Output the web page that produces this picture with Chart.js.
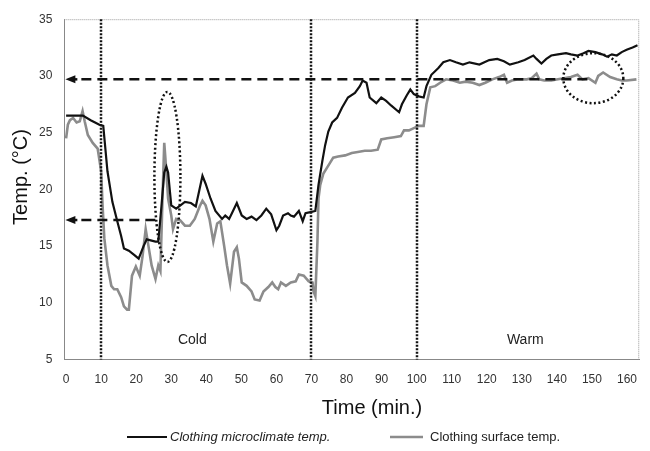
<!DOCTYPE html>
<html>
<head>
<meta charset="utf-8">
<script src="https://cdn.jsdelivr.net/npm/chart.js@4.4.1/dist/chart.umd.min.js"></script>
<style>
  html, body { margin: 0; padding: 0; background: #fff; }
  #wrap { width: 650px; height: 451px; }
</style>
</head>
<body>
<div id="wrap"><canvas id="myChart"></canvas></div>
<script>
// Clothing microclimate temp. (time in min, temp in degC)
const microTime = [0, 2, 4.8, 7, 9.5, 10.6, 11.8, 13.2, 14.6, 15.7, 16.5, 17.9, 19.5, 20.7, 22.1, 23, 25.5, 26.3, 27.2, 28, 28.6, 29.1, 30, 31.4, 33.9, 35.6, 37, 38.9, 39.8, 41.2, 42.6, 44.5, 45.4, 46.5, 47.3, 48.7, 50.1, 51.5, 52.9, 54.3, 55.7, 57.1, 58.5, 60, 60.8, 61.9, 63.3, 64.1, 65, 66.4, 67.5, 68.3, 69.7, 71.1, 72, 73.1, 73.9, 74.8, 75.9, 77.3, 78.7, 80.4, 82.4, 83.8, 84.6, 85.7, 86.6, 88.5, 89.9, 91.3, 92.7, 95, 95.8, 97.2, 98.2, 99.2, 100.6, 102, 102.8, 104.2, 106.2, 107.6, 109.5, 111.2, 113.2, 115.1, 117.9, 120.7, 123, 124.9, 126.6, 129, 130.8, 133.3, 134.2, 135.6, 137, 138.4, 140.3, 142.6, 144, 145.9, 147.6, 149, 151, 152.9, 154.3, 155.7, 157.1, 158.5, 159.9, 161.6, 163];
const microTemp = [26.5, 26.5, 26.5, 26.1, 25.7, 25.6, 21.6, 18.9, 17.2, 15.9, 14.8, 14.6, 14.2, 13.9, 15.0, 15.6, 15.4, 15.4, 18.5, 21.5, 22.0, 21.5, 18.6, 18.3, 18.9, 18.8, 18.5, 21.2, 20.5, 19.2, 18.1, 17.4, 17.7, 17.4, 17.9, 18.8, 17.7, 17.4, 17.6, 17.3, 17.7, 18.3, 17.8, 16.4, 16.8, 17.7, 17.9, 17.7, 17.6, 18.1, 17.2, 17.9, 18.0, 18.1, 20.4, 22.5, 23.9, 25.1, 25.9, 26.3, 27.2, 28.1, 28.5, 29.1, 29.6, 29.4, 28.1, 27.6, 28.1, 27.8, 27.4, 26.8, 27.5, 28.3, 28.8, 28.4, 28.2, 28.1, 29.1, 30.1, 30.7, 31.2, 31.4, 31.2, 31.0, 31.2, 31.0, 31.4, 31.5, 31.3, 31.0, 31.2, 31.4, 31.8, 31.5, 31.1, 31.5, 31.8, 31.9, 32.0, 31.9, 31.8, 32.0, 32.2, 32.1, 31.9, 31.7, 31.9, 31.8, 32.1, 32.3, 32.5, 32.7];

// Clothing surface temp.
const surfTime = [0, 0.5, 1.1, 2, 3, 3.9, 4.7, 5.3, 6.2, 7.6, 9, 10, 10.4, 10.9, 11.8, 12.9, 13.7, 14.6, 15.7, 16.5, 17.4, 17.9, 18.8, 19.9, 21, 21.8, 22.7, 23.5, 24.4, 25.5, 26.3, 26.9, 27.5, 28, 28.6, 29.1, 30, 30.5, 31.4, 32.5, 33.9, 35.3, 36.7, 38.1, 38.9, 39.8, 40.9, 42, 43.1, 44, 45.1, 45.9, 46.8, 47.9, 48.7, 49.3, 50.1, 51.5, 52.9, 53.8, 55.2, 56.3, 57.7, 58.8, 59.7, 60.5, 61.3, 62.7, 64.1, 65.5, 66.4, 67.8, 69.2, 70.3, 70.6, 71.1, 71.7, 72, 72.5, 73.4, 74.8, 76.2, 77.6, 79.6, 81.5, 83.2, 85.2, 87, 88.9, 89.9, 91.6, 93.6, 95.5, 96.4, 97.8, 99.2, 100.6, 102, 102.8, 103.9, 105.3, 106.7, 108.4, 110.4, 112.3, 114, 116, 117.9, 119.6, 121.6, 123.5, 124.9, 125.8, 127.2, 129, 131.4, 132.8, 134.2, 135, 136.4, 138.4, 140.3, 142, 144, 145.9, 147.3, 149, 151, 151.8, 153.2, 155.2, 157.1, 158.5, 159.9, 162.7];
const surfTemp = [24.5, 25.7, 26.1, 26.3, 25.9, 26.0, 26.9, 26.0, 24.8, 24.1, 23.6, 21.6, 18.6, 15.7, 13.3, 11.5, 11.2, 11.2, 10.5, 9.7, 9.4, 9.4, 12.4, 13.2, 12.4, 14.1, 16.5, 15.0, 13.3, 12.1, 13.3, 12.8, 19.2, 24.1, 21.6, 19.2, 17.7, 16.5, 17.4, 17.3, 16.8, 16.8, 17.4, 18.5, 19.0, 18.6, 17.4, 15.4, 17.0, 17.2, 15.0, 13.3, 11.7, 14.5, 14.9, 13.9, 11.8, 11.5, 11.0, 10.3, 10.2, 11.0, 11.4, 11.8, 11.4, 11.2, 11.8, 11.5, 11.8, 11.9, 12.5, 12.4, 11.9, 11.8, 11.0, 10.6, 15.4, 19.2, 20.4, 21.4, 22.1, 22.8, 22.9, 23.0, 23.2, 23.3, 23.4, 23.4, 23.5, 24.4, 24.5, 24.6, 24.7, 25.2, 25.2, 25.4, 25.6, 25.6, 27.5, 29.0, 29.1, 29.4, 29.7, 29.6, 29.4, 29.5, 29.4, 29.2, 29.4, 29.7, 29.9, 30.1, 29.4, 29.6, 29.7, 29.7, 29.8, 30.2, 29.7, 29.6, 29.6, 29.7, 29.8, 29.9, 30.1, 29.7, 29.8, 29.4, 30.0, 30.3, 29.9, 29.7, 29.6, 29.6, 29.7];

const xTicks = [0, 10, 20, 30, 40, 50, 60, 70, 80, 90, 100, 110, 120, 130, 140, 150, 160];
const phaseLines = [10, 70, 100];
const phaseLabels = [{ text: "Cold", x: 36 }, { text: "Warm", x: 131 }];
// dashed reference arrows: [temp, end time]
const refArrows = [[29.7, 150], [17.3, 27]];
const xTitle = "Time (min.)";
const yTitle = "Temp. (°C)";

const FONT = "'Liberation Sans', Arial, sans-serif";
const toPoints = (xs, ys) => xs.map((x, i) => ({ x: x, y: ys[i] }));

const annotations = {
  id: "annotations",
  afterDatasetsDraw(chart) {
    const { ctx, chartArea, scales: { x, y } } = chart;
    ctx.save();

    // phase boundaries
    ctx.strokeStyle = "#111";
    ctx.lineWidth = 2.5;
    ctx.setLineDash([2, 1.5]);
    phaseLines.forEach(function (t) {
      const px = Math.round(x.getPixelForValue(t));
      ctx.beginPath();
      ctx.moveTo(px, chartArea.top);
      ctx.lineTo(px, chartArea.bottom);
      ctx.stroke();
    });

    // ellipse round the peak and circle at the end
    ctx.lineWidth = 2.5;
    ctx.setLineDash([2, 2.5]);
    ctx.beginPath();
    ctx.ellipse(x.getPixelForValue(28.9), y.getPixelForValue(21.1), 13, 85, 0, 0, Math.PI * 2);
    ctx.stroke();
    ctx.beginPath();
    ctx.ellipse(x.getPixelForValue(150.4), y.getPixelForValue(29.8), 30, 25, 0, 0, Math.PI * 2);
    ctx.stroke();

    // dashed arrows
    ctx.lineWidth = 2.5;
    refArrows.forEach(function (a) {
      const py = y.getPixelForValue(a[0]);
      const x0 = chartArea.left + 1;
      ctx.setLineDash([10, 6]);
      ctx.beginPath();
      ctx.moveTo(x0 + 16, py);
      ctx.lineTo(x.getPixelForValue(a[1]), py);
      ctx.stroke();
      ctx.setLineDash([]);
      ctx.beginPath();
      ctx.moveTo(x0, py);
      ctx.lineTo(x0 + 10, py - 4);
      ctx.lineTo(x0 + 10, py + 4);
      ctx.closePath();
      ctx.fillStyle = "#111";
      ctx.fill();
      ctx.beginPath();
      ctx.moveTo(x0 + 8, py);
      ctx.lineTo(x0 + 12, py);
      ctx.stroke();
    });

    ctx.fillStyle = "#222";
    ctx.font = "14px " + FONT;
    ctx.textAlign = "center";
    ctx.textBaseline = "middle";
    phaseLabels.forEach(function (l) {
      ctx.fillText(l.text, x.getPixelForValue(l.x), chartArea.bottom - 19);
    });
    ctx.restore();
  }
};

// light dotted frame on top and right
const frame = {
  id: "frame",
  beforeDatasetsDraw(chart) {
    const { ctx, chartArea } = chart;
    ctx.save();
    ctx.strokeStyle = "#999";
    ctx.lineWidth = 1;
    ctx.setLineDash([1, 1]);
    ctx.beginPath();
    ctx.moveTo(chartArea.left, chartArea.top + 0.5);
    ctx.lineTo(chartArea.right - 0.5, chartArea.top + 0.5);
    ctx.lineTo(chartArea.right - 0.5, chartArea.bottom);
    ctx.stroke();
    ctx.restore();
  }
};

// axis titles (placed a bit off-centre like the original) and legend row
const outerText = {
  id: "outerText",
  afterDraw(chart) {
    const ctx = chart.ctx;
    ctx.save();
    ctx.fillStyle = "#111";
    ctx.font = "20px " + FONT;
    ctx.textAlign = "center";
    ctx.textBaseline = "middle";
    ctx.fillText(xTitle, 372, 408);
    ctx.translate(21, 177);
    ctx.rotate(-Math.PI / 2);
    ctx.fillText(yTitle, 0, 0);
    ctx.restore();

    const ly = 437;
    const items = [
      { x0: 127, x1: 167, tx: 170, style: "italic ", ds: chart.data.datasets[0] },
      { x0: 390, x1: 423, tx: 430, style: "", ds: chart.data.datasets[1] },
    ];
    ctx.save();
    ctx.textBaseline = "middle";
    ctx.textAlign = "left";
    items.forEach(function (it) {
      ctx.strokeStyle = it.ds.borderColor;
      ctx.lineWidth = it.ds.borderWidth;
      ctx.beginPath();
      ctx.moveTo(it.x0, ly);
      ctx.lineTo(it.x1, ly);
      ctx.stroke();
      ctx.fillStyle = "#222";
      ctx.font = it.style + "13px " + FONT;
      ctx.fillText(it.ds.label, it.tx, ly);
    });
    ctx.restore();
  }
};

const ctx = document.getElementById("myChart");
new Chart(ctx, {
  type: "line",
  data: {
    datasets: [
      {
        label: "Clothing microclimate temp.",
        data: toPoints(microTime, microTemp),
        borderColor: "#111",
        backgroundColor: "#111",
        borderWidth: 2.2,
        pointRadius: 0,
        tension: 0,
      },
      {
        label: "Clothing surface temp.",
        data: toPoints(surfTime, surfTemp),
        borderColor: "#8c8c8c",
        backgroundColor: "#8c8c8c",
        borderWidth: 2.6,
        pointRadius: 0,
        tension: 0,
      },
    ],
  },
  options: {
    responsive: true,
    maintainAspectRatio: false,
    animation: false,
    layout: { padding: { top: 12, right: 1, left: 27, bottom: 51 } },
    plugins: {
      legend: { display: false },
      tooltip: { enabled: false },
    },
    scales: {
      x: {
        type: "linear",
        min: -0.5,
        max: 163.5,
        grid: { display: false, drawTicks: false },
        border: { color: "#888", dash: [1, 1] },
        ticks: {
          color: "#333",
          padding: 13,
          font: { size: 12, family: FONT },
        },
        afterBuildTicks: (axis) => {
          axis.ticks = xTicks.map((v) => ({ value: v }));
        },
      },
      y: {
        min: 5,
        max: 35,
        grid: { display: false, drawTicks: false },
        border: { color: "#888" },
        ticks: {
          stepSize: 5,
          color: "#333",
          padding: 12,
          font: { size: 12, family: FONT },
        },
      },
    },
  },
  plugins: [frame, annotations, outerText],
});
</script>
</body>
</html>
